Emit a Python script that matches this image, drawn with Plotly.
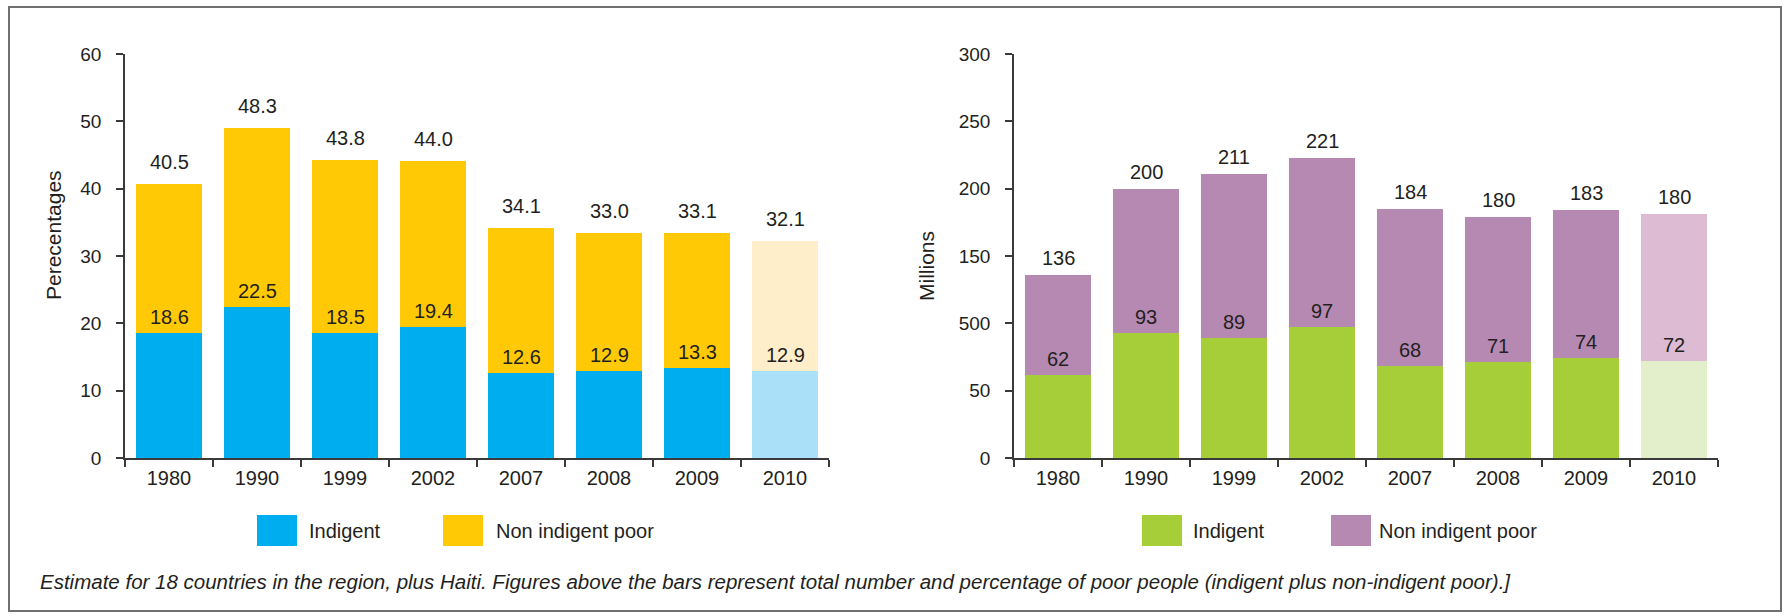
import plotly.graph_objects as go

W, H = 1791, 616

years = ["1980", "1990", "1999", "2002", "2007", "2008", "2009", "2010"]

# Left chart: percentages
pct_indigent = [18.6, 22.5, 18.5, 19.4, 12.6, 12.9, 13.3, 12.9]
pct_non_indigent = [22.1, 26.5, 25.8, 24.7, 21.6, 20.5, 20.1, 19.3]
pct_total_labels = ["40.5", "48.3", "43.8", "44.0", "34.1", "33.0", "33.1", "32.1"]
pct_indigent_labels = ["18.6", "22.5", "18.5", "19.4", "12.6", "12.9", "13.3", "12.9"]

# Right chart: millions
mil_indigent = [62, 93, 89, 97, 68, 71, 74, 72]
mil_non_indigent = [74, 107, 122, 126, 117, 108, 110, 109]
mil_total_labels = ["136", "200", "211", "221", "184", "180", "183", "180"]
mil_indigent_labels = ["62", "93", "89", "97", "68", "71", "74", "72"]

left_ticks = [0, 10, 20, 30, 40, 50, 60]
left_ticktext = ["0", "10", "20", "30", "40", "50", "60"]
right_ticks = [0, 50, 100, 150, 200, 250, 300]
right_ticktext = ["0", "50", "500", "150", "200", "250", "300"]

FONT = "Liberation Sans, Arial, sans-serif"
TXT = "#231F20"
AX = "#3a3a3a"

BLUE, BLUE_L = "#00AEEF", "#ABE0F9"
YEL, YEL_L = "#FFC905", "#FFEEC9"
GRN, GRN_L = "#A6CE39", "#E3EFCA"
PUR, PUR_L = "#B689B2", "#DDBBD3"


def colors(base, light):
    return [light if y == "2010" else base for y in years]


idx = list(range(len(years)))

fig = go.Figure()
fig.add_trace(go.Bar(x=idx, y=pct_indigent, marker=dict(color=colors(BLUE, BLUE_L), line_width=0),
                     width=0.76, xaxis="x", yaxis="y", name="Indigent", hoverinfo="y"))
fig.add_trace(go.Bar(x=idx, y=pct_non_indigent, marker=dict(color=colors(YEL, YEL_L), line_width=0),
                     width=0.76, xaxis="x", yaxis="y", name="Non indigent poor", hoverinfo="y"))
fig.add_trace(go.Bar(x=idx, y=mil_indigent, marker=dict(color=colors(GRN, GRN_L), line_width=0),
                     width=0.76, xaxis="x2", yaxis="y2", name="Indigent", hoverinfo="y"))
fig.add_trace(go.Bar(x=idx, y=mil_non_indigent, marker=dict(color=colors(PUR, PUR_L), line_width=0),
                     width=0.76, xaxis="x2", yaxis="y2", name="Non indigent poor", hoverinfo="y"))


def px_x(x):
    return x / W


def px_y(y):
    return 1 - y / H


ydom = [px_y(458), px_y(54)]

xcommon = dict(type="linear", showline=True, linecolor=AX, linewidth=1.5, ticks="", showgrid=False,
               zeroline=False, tickmode="array", tickvals=idx, ticktext=years, automargin=False,
               tickfont=dict(family=FONT, size=20, color=TXT), range=[-0.5, 7.5], fixedrange=True,
               minor=dict(ticks="outside", tickmode="array", tickvals=[i - 0.5 for i in range(len(years) + 1)],
                          ticklen=7, tickcolor=AX, tickwidth=1.5, showgrid=False),
               ticklabelstandoff=1)
ycommon = dict(showline=True, linecolor=AX, linewidth=1.5, ticks="outside", ticklen=7, tickcolor=AX,
               tickwidth=1.5, showgrid=False, zeroline=False, domain=ydom, automargin=False,
               tickfont=dict(family=FONT, size=19, color=TXT), ticklabelstandoff=11, fixedrange=True)

annotations = []
for i in idx:
    tot = pct_indigent[i] + pct_non_indigent[i]
    annotations.append(dict(x=i, y=tot, xref="x", yref="y", text=pct_total_labels[i], showarrow=False,
                            yshift=22, font=dict(family=FONT, size=20, color=TXT)))
    annotations.append(dict(x=i, y=pct_indigent[i], xref="x", yref="y", text=pct_indigent_labels[i],
                            showarrow=False, yshift=16, font=dict(family=FONT, size=20, color=TXT)))
    tot2 = mil_indigent[i] + mil_non_indigent[i]
    annotations.append(dict(x=i, y=tot2, xref="x2", yref="y2", text=mil_total_labels[i], showarrow=False,
                            yshift=17, font=dict(family=FONT, size=20, color=TXT)))
    annotations.append(dict(x=i, y=mil_indigent[i], xref="x2", yref="y2", text=mil_indigent_labels[i],
                            showarrow=False, yshift=16, font=dict(family=FONT, size=20, color=TXT)))

# axis titles
annotations.append(dict(x=px_x(53), y=px_y(235), xref="paper", yref="paper", text="Perecentages",
                        xanchor="center", yanchor="middle", textangle=-90, showarrow=False,
                        font=dict(family=FONT, size=21, color=TXT)))
annotations.append(dict(x=px_x(926), y=px_y(266), xref="paper", yref="paper", text="Millions",
                        xanchor="center", yanchor="middle", textangle=-90, showarrow=False,
                        font=dict(family=FONT, size=21, color=TXT)))

# legends
shapes = []
legend_items = [
    (257, BLUE, "Indigent", 307),
    (443, YEL, "Non indigent poor", 494),
    (1142, GRN, "Indigent", 1191),
    (1331, PUR, "Non indigent poor", 1377),
]
for sx, col, label, tx in legend_items:
    shapes.append(dict(type="rect", xref="paper", yref="paper", x0=px_x(sx), x1=px_x(sx + 40),
                       y0=px_y(546), y1=px_y(515), fillcolor=col, line_width=0))
    annotations.append(dict(x=px_x(tx), y=px_y(531), xref="paper", yref="paper", text=label,
                            xanchor="left", yanchor="middle", showarrow=False,
                            font=dict(family=FONT, size=20, color=TXT)))

# caption
annotations.append(dict(x=px_x(38), y=px_y(581), xref="paper", yref="paper", xanchor="left", yanchor="middle",
                        text="<i>Estimate for 18 countries in the region, plus Haiti. Figures above the bars represent total number and percentage of poor people (indigent plus non-indigent poor).]</i>",
                        showarrow=False, font=dict(family=FONT, size=20.5, color=TXT)))

# border
shapes.append(dict(type="rect", xref="paper", yref="paper", x0=px_x(9), x1=px_x(1781), y0=px_y(611),
                   y1=px_y(7), line=dict(color="#707070", width=2), fillcolor="rgba(0,0,0,0)"))

fig.update_layout(
    width=W, height=H, margin=dict(l=0, r=0, t=0, b=0, pad=0), autosize=False,
    paper_bgcolor="white", plot_bgcolor="white", barmode="stack", showlegend=False,
    xaxis=dict(xcommon, domain=[px_x(125), px_x(829)], anchor="y"),
    yaxis=dict(ycommon, range=[0, 60], tickvals=left_ticks, ticktext=left_ticktext, anchor="x"),
    xaxis2=dict(xcommon, domain=[px_x(1014), px_x(1718)], anchor="y2"),
    yaxis2=dict(ycommon, range=[0, 300], tickvals=right_ticks, ticktext=right_ticktext, anchor="x2"),
    annotations=annotations, shapes=shapes,
)

fig.write_html("out.html", config={"displayModeBar": False},
               post_script="document.body.style.margin='0';document.body.style.overflow='hidden';")
